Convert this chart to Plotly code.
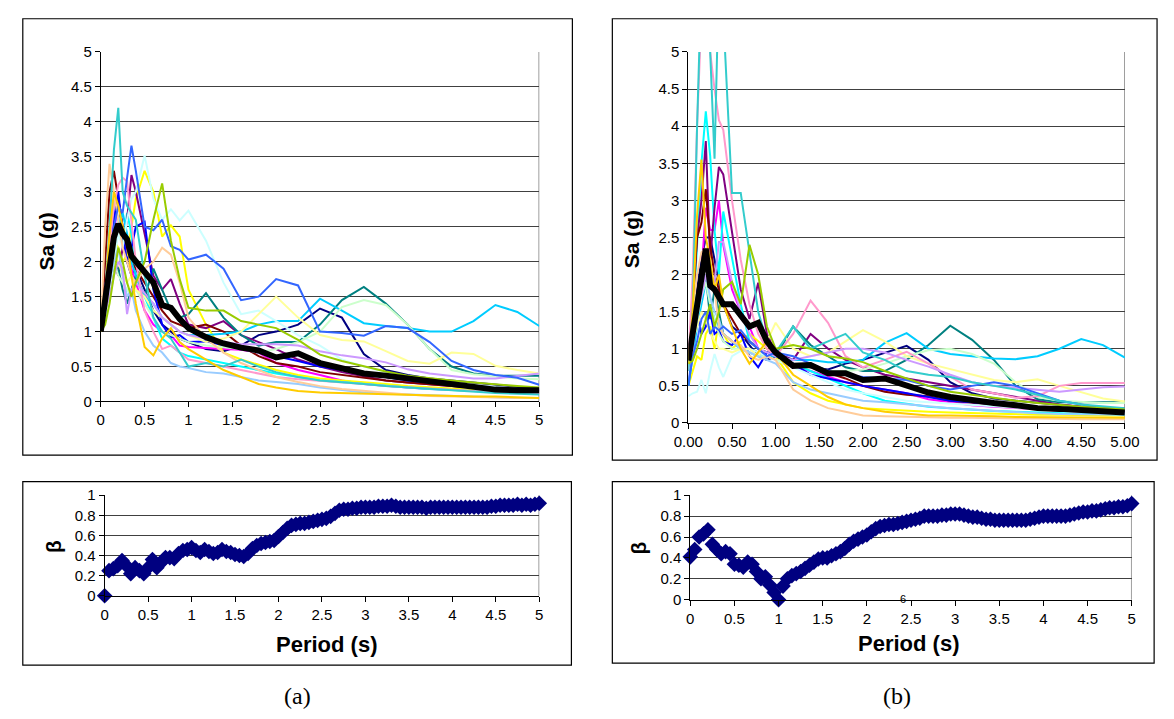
import plotly.graph_objects as go

# ---------------- data ----------------
periods = [0, 0.05, 0.1, 0.15, 0.2, 0.25, 0.3, 0.35, 0.4,
           0.5, 0.6, 0.7, 0.8, 0.9, 1.0,
           1.2, 1.4, 1.6, 1.8, 2.0,
           2.25, 2.5, 2.75, 3.0, 3.25, 3.5, 3.75, 4.0, 4.25, 4.5, 4.75, 5.0]

# panel (a) individual spectra, Sa (g)
a_navy = [1.0, 1.5, 2.2, 2.6, 2.9, 2.4, 2.0, 1.8, 1.9, 1.6, 1.3, 1.1, 1.0, 0.9, 0.85, 0.75, 0.72, 0.8, 0.95, 1.0, 1.1, 1.33, 1.2, 0.68, 0.45, 0.38, 0.33, 0.3, 0.26, 0.23, 0.2, 0.18]
a_magenta = [1.0, 1.3, 1.9, 2.4, 2.9, 2.5, 2.2, 1.9, 1.7, 1.3, 1.1, 1.0, 0.95, 0.8, 0.78, 0.76, 0.75, 0.74, 0.7, 0.55, 0.45, 0.38, 0.3, 0.25, 0.22, 0.2, 0.18, 0.17, 0.16, 0.15, 0.14, 0.13]
a_yellow = [1.1, 1.5, 2.0, 2.3, 2.2, 2.0, 2.1, 2.5, 2.9, 3.3, 3.0, 2.36, 2.52, 2.36, 1.6, 1.1, 0.7, 0.6, 0.52, 0.45, 0.38, 0.33, 0.3, 0.28, 0.25, 0.22, 0.2, 0.18, 0.16, 0.15, 0.14, 0.13]
a_cyan = [1.0, 1.5, 2.3, 2.9, 2.6, 2.2, 2.7, 2.4, 1.8, 1.5, 1.2, 0.9, 0.8, 0.7, 0.65, 0.6, 0.55, 0.5, 0.45, 0.4, 0.35, 0.3, 0.28, 0.25, 0.22, 0.2, 0.18, 0.16, 0.15, 0.14, 0.13, 0.12]
a_purple = [1.0, 1.3, 1.6, 2.0, 1.8, 2.2, 2.6, 3.24, 3.0, 2.4, 1.8, 1.6, 1.75, 1.4, 1.1, 1.05, 1.15, 0.95, 0.85, 0.75, 0.6, 0.5, 0.42, 0.36, 0.3, 0.27, 0.24, 0.22, 0.2, 0.18, 0.17, 0.16]
a_maroon = [1.0, 2.0, 3.0, 3.3, 2.9, 2.5, 2.2, 2.0, 1.9, 1.7, 1.5, 1.3, 1.15, 1.1, 1.05, 1.1, 1.0, 0.8, 0.65, 0.55, 0.5, 0.42, 0.38, 0.33, 0.3, 0.27, 0.24, 0.22, 0.2, 0.18, 0.16, 0.15]
a_teal = [1.0, 1.3, 1.6, 2.0, 1.9, 1.6, 1.4, 1.6, 1.8, 1.5, 1.9, 1.6, 1.3, 1.2, 1.25, 1.55, 1.2, 0.95, 0.8, 0.85, 0.85, 1.1, 1.45, 1.64, 1.4, 1.1, 0.75, 0.5, 0.4, 0.37, 0.37, 0.37]
a_blue = [1.0, 1.6, 2.2, 2.6, 3.0, 2.4, 2.0, 2.2, 2.5, 2.57, 1.6, 1.1, 0.92, 0.95, 0.85, 0.86, 0.8, 0.75, 0.7, 0.65, 0.58, 0.5, 0.45, 0.4, 0.35, 0.3, 0.27, 0.25, 0.22, 0.2, 0.18, 0.16]
a_skyblue = [1.0, 1.4, 1.9, 2.3, 2.5, 2.7, 2.4, 2.0, 1.8, 1.5, 1.4, 1.2, 1.1, 1.0, 0.95, 0.95, 0.97, 1.0, 1.1, 1.15, 1.15, 1.47, 1.3, 1.12, 1.08, 1.05, 1.0, 1.0, 1.15, 1.38, 1.28, 1.08]
a_paleturq = [1.0, 1.2, 1.6, 2.0, 2.4, 2.2, 2.6, 2.9, 3.0, 3.52, 2.9, 2.6, 2.75, 2.59, 2.73, 2.3, 1.7, 1.25, 1.3, 1.15, 0.95, 0.8, 0.6, 0.5, 0.42, 0.36, 0.3, 0.26, 0.23, 0.2, 0.18, 0.17]
a_palegreen = [1.0, 1.3, 1.8, 2.0, 1.8, 1.7, 1.6, 1.5, 1.6, 1.4, 1.2, 1.0, 0.95, 0.9, 0.85, 0.8, 0.78, 0.75, 0.7, 0.75, 0.85, 1.0, 1.35, 1.45, 1.38, 1.1, 0.75, 0.45, 0.39, 0.36, 0.33, 0.32]
a_paleyellow = [1.0, 1.4, 1.8, 2.1, 2.0, 1.8, 1.7, 1.8, 1.6, 1.5, 1.3, 1.2, 1.1, 1.0, 0.95, 0.85, 0.9, 1.0, 1.25, 1.5, 1.2, 0.95, 0.88, 0.86, 0.72, 0.58, 0.54, 0.7, 0.68, 0.51, 0.45, 0.4]
a_paleblue = [1.0, 1.3, 1.7, 2.0, 2.2, 1.8, 1.5, 1.6, 1.3, 1.0, 0.8, 0.7, 0.55, 0.5, 0.48, 0.42, 0.4, 0.35, 0.3, 0.28, 0.25, 0.2, 0.16, 0.13, 0.11, 0.1, 0.08, 0.07, 0.06, 0.05, 0.05, 0.05]
a_rose = [1.0, 1.6, 2.2, 2.8, 3.1, 3.2, 3.15, 2.6, 2.0, 1.3, 1.0, 0.75, 0.8, 0.7, 0.6, 0.55, 0.5, 0.45, 0.4, 0.35, 0.32, 0.3, 0.28, 0.25, 0.22, 0.2, 0.18, 0.16, 0.15, 0.14, 0.13, 0.12]
a_lavender = [1.0, 1.3, 1.5, 1.8, 2.0, 1.9, 1.25, 1.6, 1.7, 1.55, 1.4, 1.2, 1.1, 1.0, 0.95, 0.9, 0.85, 0.82, 0.82, 0.82, 0.8, 0.72, 0.66, 0.62, 0.56, 0.46, 0.4, 0.36, 0.33, 0.33, 0.37, 0.4]
a_tan = [1.0, 2.5, 3.4, 3.0, 2.6, 2.2, 2.0, 1.8, 1.7, 1.9, 2.0, 2.2, 2.1, 1.7, 1.2, 0.9, 0.7, 0.55, 0.45, 0.35, 0.28, 0.22, 0.18, 0.15, 0.12, 0.1, 0.08, 0.07, 0.06, 0.05, 0.05, 0.05]
a_royal = [1.0, 1.6, 2.0, 2.5, 2.8, 2.7, 3.2, 3.66, 3.3, 2.5, 2.45, 2.6, 2.22, 2.17, 2.03, 2.1, 1.9, 1.45, 1.5, 1.75, 1.66, 1.0, 0.98, 0.94, 1.08, 1.05, 0.85, 0.58, 0.45, 0.38, 0.34, 0.24]
a_aqua = [1.0, 1.5, 2.5, 3.6, 4.2, 3.0, 2.8, 2.7, 2.6, 1.8, 1.2, 1.0, 0.9, 0.7, 0.5, 0.55, 0.5, 0.6, 0.5, 0.42, 0.35, 0.3, 0.28, 0.25, 0.22, 0.2, 0.18, 0.15, 0.13, 0.12, 0.11, 0.1]
a_lime = [1.0, 1.1, 1.4, 1.8, 2.2, 2.0, 1.7, 1.5, 1.7, 2.0, 2.6, 3.12, 2.3, 1.75, 1.34, 1.3, 1.3, 1.15, 1.1, 1.05, 0.88, 0.67, 0.58, 0.5, 0.43, 0.37, 0.33, 0.3, 0.27, 0.24, 0.22, 0.2]
a_gold = [1.0, 1.5, 2.4, 3.0, 2.8, 2.5, 2.3, 1.8, 1.4, 0.78, 0.66, 0.9, 1.05, 0.85, 0.75, 0.6, 0.45, 0.35, 0.25, 0.2, 0.15, 0.13, 0.12, 0.11, 0.1, 0.1, 0.09, 0.08, 0.07, 0.07, 0.06, 0.05]
a_mean = [1.0, 1.4, 1.9, 2.35, 2.54, 2.4, 2.32, 2.08, 2.0, 1.85, 1.7, 1.38, 1.34, 1.18, 1.05, 0.92, 0.83, 0.77, 0.73, 0.63, 0.69, 0.55, 0.47, 0.4, 0.37, 0.33, 0.28, 0.24, 0.19, 0.17, 0.16, 0.16]

# panel (b) individual spectra, Sa (g)
b_navy = [0.8, 1.2, 1.8, 2.2, 2.5, 2.5, 2.2, 1.9, 1.6, 1.3, 1.2, 1.05, 0.9, 0.85, 0.9, 0.8, 0.75, 0.72, 0.8, 0.85, 0.95, 1.04, 0.85, 0.55, 0.4, 0.33, 0.3, 0.27, 0.24, 0.22, 0.2, 0.18]
b_magenta = [0.8, 1.2, 1.6, 2.0, 2.9, 2.6, 2.6, 3.0, 2.4, 1.8, 1.5, 1.3, 1.0, 0.9, 0.85, 0.75, 0.7, 0.62, 0.55, 0.5, 0.45, 0.4, 0.32, 0.28, 0.24, 0.22, 0.2, 0.18, 0.16, 0.15, 0.14, 0.13]
b_yellow = [0.5, 0.7, 0.9, 0.85, 1.2, 1.3, 1.0, 1.4, 1.2, 1.0, 1.1, 1.2, 1.1, 1.0, 0.9, 0.55, 0.4, 0.3, 0.25, 0.2, 0.18, 0.16, 0.15, 0.14, 0.13, 0.12, 0.12, 0.11, 0.11, 0.1, 0.1, 0.1]
b_cyan = [0.8, 1.3, 2.4, 3.5, 4.2, 3.6, 2.6, 2.0, 2.85, 2.2, 1.6, 1.1, 1.0, 0.95, 0.9, 0.8, 0.7, 0.6, 0.5, 0.4, 0.3, 0.26, 0.22, 0.2, 0.18, 0.16, 0.15, 0.14, 0.13, 0.12, 0.12, 0.11]
b_purple = [0.8, 1.5, 2.5, 3.0, 3.8, 2.2, 2.9, 3.45, 3.35, 2.6, 1.8, 1.4, 1.89, 1.2, 0.95, 0.85, 1.2, 1.0, 0.85, 0.75, 0.65, 0.6, 0.55, 0.5, 0.45, 0.4, 0.35, 0.3, 0.25, 0.22, 0.2, 0.2]
b_maroon = [0.8, 1.6, 2.5, 2.7, 3.15, 2.4, 2.0, 1.8, 1.6, 1.4, 1.2, 1.1, 1.0, 0.95, 0.9, 0.8, 0.75, 0.68, 0.6, 0.5, 0.42, 0.38, 0.36, 0.3, 0.27, 0.25, 0.22, 0.2, 0.18, 0.16, 0.15, 0.14]
b_teal = [0.8, 1.1, 1.5, 1.8, 2.0, 1.4, 1.8, 1.5, 1.2, 1.1, 1.0, 1.0, 0.95, 0.9, 0.9, 1.3, 1.05, 0.9, 0.75, 0.7, 0.7, 0.85, 1.05, 1.31, 1.12, 0.85, 0.5, 0.32, 0.28, 0.28, 0.28, 0.28]
b_blue = [0.5, 1.0, 1.5, 1.2, 1.3, 1.5, 1.2, 1.25, 1.1, 1.05, 1.2, 0.9, 0.75, 0.95, 0.95, 0.8, 0.65, 0.6, 0.55, 0.5, 0.45, 0.4, 0.35, 0.3, 0.28, 0.25, 0.22, 0.2, 0.18, 0.16, 0.15, 0.14]
b_skyblue = [0.5, 0.9, 1.3, 1.6, 1.9, 1.6, 1.4, 1.3, 1.2, 1.1, 1.0, 0.95, 0.9, 0.9, 0.9, 0.85, 0.85, 0.82, 0.82, 0.85, 1.08, 1.21, 1.0, 0.93, 0.9, 0.87, 0.86, 0.9, 1.0, 1.13, 1.05, 0.88]
b_paleturq = [0.36, 0.4, 0.42, 0.58, 0.4, 0.7, 0.93, 0.75, 0.62, 0.9, 0.97, 1.0, 0.95, 0.9, 0.85, 0.75, 0.65, 0.55, 0.45, 0.4, 0.35, 0.3, 0.28, 0.26, 0.24, 0.22, 0.2, 0.18, 0.16, 0.15, 0.14, 0.13]
b_palegreen = [0.8, 1.1, 1.4, 1.7, 1.9, 1.6, 1.4, 1.2, 1.1, 1.0, 1.0, 0.95, 0.9, 0.9, 0.85, 0.8, 0.75, 0.7, 0.7, 0.72, 0.8, 0.9, 0.98, 1.0, 0.93, 0.8, 0.55, 0.35, 0.3, 0.28, 0.27, 0.27]
b_paleyellow = [0.8, 1.1, 1.3, 1.5, 1.4, 1.2, 1.1, 1.0, 1.0, 0.95, 1.0, 1.0, 0.9, 1.1, 1.35, 1.0, 0.9, 0.95, 1.1, 1.25, 1.1, 0.9, 0.8, 0.73, 0.65, 0.58, 0.55, 0.59, 0.5, 0.42, 0.33, 0.29]
b_paleblue = [0.8, 1.1, 1.4, 1.8, 2.0, 1.7, 1.5, 1.4, 1.2, 1.1, 1.0, 0.95, 0.9, 0.85, 0.8, 0.55, 0.45, 0.4, 0.35, 0.3, 0.28, 0.25, 0.22, 0.2, 0.18, 0.16, 0.14, 0.13, 0.12, 0.12, 0.11, 0.11]
b_rose = [0.8, 2.0, 4.0, 5.5, 6.0, 5.0, 4.5, 4.08, 3.95, 3.0, 2.2, 1.6, 1.2, 1.0, 0.9, 1.2, 1.65, 1.35, 0.9, 0.75, 0.85, 0.96, 0.8, 0.62, 0.45, 0.4, 0.34, 0.36, 0.5, 0.54, 0.54, 0.54]
b_lavender = [0.7, 1.0, 1.5, 1.7, 2.0, 1.8, 1.9, 2.44, 2.44, 1.9, 1.5, 1.2, 1.0, 0.95, 0.9, 0.85, 0.9, 0.95, 1.0, 1.0, 0.95, 0.85, 0.76, 0.65, 0.55, 0.5, 0.47, 0.44, 0.42, 0.45, 0.48, 0.49]
b_tan = [0.8, 1.5, 2.0, 2.3, 2.35, 2.1, 1.8, 1.3, 1.2, 1.1, 1.05, 0.9, 0.85, 0.9, 0.85, 0.45, 0.3, 0.2, 0.15, 0.1, 0.09, 0.08, 0.08, 0.07, 0.07, 0.06, 0.06, 0.06, 0.05, 0.05, 0.05, 0.05]
b_royal = [0.5, 0.9, 1.1, 1.4, 1.5, 1.2, 1.3, 1.25, 1.3, 1.2, 1.25, 1.1, 1.0, 0.9, 0.95, 0.9, 0.8, 0.7, 0.65, 0.62, 0.6, 0.58, 0.5, 0.45, 0.5, 0.55, 0.5, 0.4, 0.3, 0.25, 0.2, 0.18]
b_aqua = [0.7, 1.5, 4.0, 6.0, 6.0, 5.0, 3.56, 6.0, 5.5, 3.1, 3.1, 2.3, 1.5, 1.1, 0.95, 1.3, 1.0, 1.1, 1.2, 0.95, 0.85, 0.7, 0.65, 0.62, 0.55, 0.5, 0.45, 0.38, 0.3, 0.25, 0.22, 0.2]
b_lime = [0.8, 0.84, 1.0, 1.2, 1.37, 1.6, 1.3, 1.5, 1.8, 1.9, 1.6, 2.4, 2.0, 1.3, 1.0, 1.05, 1.0, 0.9, 0.87, 0.82, 0.7, 0.6, 0.5, 0.42, 0.38, 0.33, 0.3, 0.27, 0.24, 0.22, 0.2, 0.18]
b_gold = [0.8, 1.5, 2.8, 3.55, 2.5, 2.2, 1.8, 2.0, 1.6, 1.28, 1.0, 0.8, 0.95, 1.1, 0.95, 0.65, 0.5, 0.35, 0.25, 0.2, 0.15, 0.12, 0.1, 0.1, 0.09, 0.09, 0.08, 0.08, 0.08, 0.07, 0.07, 0.07]
b_mean = [0.84, 1.2, 1.5, 1.95, 2.35, 1.85, 1.8, 1.68, 1.6, 1.6, 1.45, 1.3, 1.35, 1.1, 0.95, 0.77, 0.78, 0.67, 0.67, 0.58, 0.6, 0.5, 0.41, 0.35, 0.3, 0.27, 0.24, 0.2, 0.19, 0.18, 0.16, 0.14]

# dispersion beta, period step 0.05 s from 0 to 5 s
beta_periods = [round(0.05 * i, 2) for i in range(101)]
beta_a = [0.00, 0.25, 0.27, 0.30, 0.35, 0.30, 0.22, 0.28, 0.25, 0.22,
          0.28, 0.36, 0.28, 0.33, 0.38, 0.38, 0.37, 0.42, 0.45, 0.46,
          0.48, 0.45, 0.43, 0.46, 0.44, 0.42, 0.43, 0.46, 0.44, 0.43,
          0.41, 0.40, 0.39, 0.42, 0.47, 0.50, 0.52, 0.53, 0.54, 0.55,
          0.59, 0.63, 0.67, 0.70, 0.71, 0.72, 0.72, 0.73, 0.74, 0.75,
          0.76, 0.77, 0.79, 0.82, 0.85, 0.86, 0.86, 0.87, 0.87, 0.88,
          0.88, 0.88, 0.88, 0.89, 0.89, 0.89, 0.90, 0.89, 0.88, 0.88,
          0.88, 0.88, 0.88, 0.88, 0.87, 0.88, 0.88, 0.88, 0.88, 0.88,
          0.88, 0.88, 0.88, 0.88, 0.88, 0.88, 0.88, 0.88, 0.88, 0.89,
          0.89, 0.90, 0.90, 0.90, 0.90, 0.91, 0.90, 0.91, 0.90, 0.91,
          0.92]
beta_b = [0.41, 0.48, 0.60, 0.63, 0.67, 0.53, 0.48, 0.44, 0.46, 0.44,
          0.34, 0.33, 0.31, 0.36, 0.34, 0.27, 0.20, 0.22, 0.14, 0.07,
          0.00, 0.13, 0.20, 0.23, 0.25, 0.27, 0.30, 0.33, 0.36, 0.39,
          0.40, 0.40, 0.42, 0.44, 0.46, 0.49, 0.53, 0.56, 0.58, 0.60,
          0.62, 0.65, 0.68, 0.70, 0.71, 0.72, 0.72, 0.73, 0.74, 0.75,
          0.76, 0.77, 0.78, 0.80, 0.80, 0.80, 0.80, 0.81, 0.81, 0.82,
          0.82, 0.82, 0.81, 0.80, 0.79, 0.79, 0.78, 0.77, 0.77, 0.76,
          0.76, 0.76, 0.76, 0.76, 0.76, 0.76, 0.76, 0.77, 0.78, 0.79,
          0.80, 0.80, 0.80, 0.80, 0.80, 0.80, 0.81, 0.82, 0.83, 0.84,
          0.84, 0.85, 0.85, 0.86, 0.87, 0.88, 0.88, 0.89, 0.89, 0.90,
          0.92]

top_x_ticks = [0, 0.5, 1, 1.5, 2, 2.5, 3, 3.5, 4, 4.5, 5]
top_a_xlabels = ["0", "0.5", "1", "1.5", "2", "2.5", "3", "3.5", "4", "4.5", "5"]
top_b_xlabels = ["0.00", "0.50", "1.00", "1.50", "2.00", "2.50", "3.00", "3.50", "4.00", "4.50", "5.00"]
top_y_ticks = [0, 0.5, 1, 1.5, 2, 2.5, 3, 3.5, 4, 4.5, 5]
top_y_labels = ["0", "0.5", "1", "1.5", "2", "2.5", "3", "3.5", "4", "4.5", "5"]
bot_y_ticks = [0, 0.2, 0.4, 0.6, 0.8, 1]
bot_y_labels = ["0", "0.2", "0.4", "0.6", "0.8", "1"]

# ---------------- styles ----------------
record_colors = ["#000080", "#FF00FF", "#FFFF00", "#00FFFF", "#800080", "#800000",
                 "#008080", "#0000FF", "#00CCFF", "#CCFFFF", "#CCFFCC", "#FFFF99",
                 "#99CCFF", "#FF99CC", "#CC99FF", "#FFCC99", "#3366FF", "#33CCCC",
                 "#99CC00", "#FFCC00"]
a_records = [a_navy, a_magenta, a_yellow, a_cyan, a_purple, a_maroon, a_teal, a_blue,
             a_skyblue, a_paleturq, a_palegreen, a_paleyellow, a_paleblue, a_rose,
             a_lavender, a_tan, a_royal, a_aqua, a_lime, a_gold]
b_records = [b_navy, b_magenta, b_yellow, b_cyan, b_purple, b_maroon, b_teal, b_blue,
             b_skyblue, b_paleturq, b_palegreen, b_paleyellow, b_paleblue, b_rose,
             b_lavender, b_tan, b_royal, b_aqua, b_lime, b_gold]

W, H = 1174, 719
def px(x):
    return x / W
def py(y):
    return 1 - y / H

TICKFONT = dict(family="Liberation Sans Narrow, Arial Narrow, Liberation Sans, Arial", size=15, color="#000000")
GRID = "#404040"

fig = go.Figure()

for vals, col in zip(a_records, record_colors):
    fig.add_trace(go.Scatter(x=periods, y=vals, mode="lines", line=dict(color=col, width=2),
                             xaxis="x", yaxis="y", hoverinfo="skip"))
fig.add_trace(go.Scatter(x=periods, y=a_mean, mode="lines", line=dict(color="#000000", width=6),
                         xaxis="x", yaxis="y"))

for vals, col in zip(b_records, record_colors):
    fig.add_trace(go.Scatter(x=periods, y=vals, mode="lines", line=dict(color=col, width=2),
                             xaxis="x2", yaxis="y2", hoverinfo="skip"))
fig.add_trace(go.Scatter(x=periods, y=b_mean, mode="lines", line=dict(color="#000000", width=6),
                         xaxis="x2", yaxis="y2"))

fig.add_trace(go.Scatter(x=beta_periods, y=beta_a, mode="markers",
                         marker=dict(symbol="diamond", size=12, color="#000080"),
                         cliponaxis=False, xaxis="x3", yaxis="y3"))
fig.add_trace(go.Scatter(x=beta_periods, y=beta_b, mode="markers",
                         marker=dict(symbol="diamond", size=12, color="#000080"),
                         cliponaxis=False, xaxis="x4", yaxis="y4"))

def xax(domain, ticktext, anchor):
    return dict(domain=domain, range=[0, 5], anchor=anchor, tickvals=top_x_ticks, ticktext=ticktext,
                showgrid=False, zeroline=False, showline=True, linecolor="#000000", linewidth=1,
                ticks="outside", ticklen=5, tickcolor="#000000", tickfont=TICKFONT, fixedrange=True)

def yax(domain, rng, tv, tt, anchor):
    return dict(domain=domain, range=rng, anchor=anchor, tickvals=tv, ticktext=tt,
                showgrid=True, gridcolor=GRID, gridwidth=1, zeroline=False, showline=True,
                linecolor="#000000", linewidth=1, ticks="outside", ticklen=5, tickcolor="#000000",
                tickfont=TICKFONT, fixedrange=True)

fig.update_layout(
    width=W, height=H, margin=dict(l=0, r=0, t=0, b=0),
    paper_bgcolor="white", plot_bgcolor="white", showlegend=False,
    xaxis=xax([px(88), px(538)], top_a_xlabels, "y"),
    yaxis=yax([py(402), py(44)], [0, 5], top_y_ticks, top_y_labels, "x"),
    xaxis2=xax([px(691), px(1139)], top_b_xlabels, "y2"),
    yaxis2=yax([py(424), py(44)], [0, 5], top_y_ticks, top_y_labels, "x2"),
    xaxis3=xax([px(92), px(538)], top_a_xlabels, "y3"),
    yaxis3=yax([py(601), py(498)], [0, 1], bot_y_ticks, bot_y_labels, "x3"),
    xaxis4=xax([px(693), px(1146)], top_a_xlabels, "y4"),
    yaxis4=yax([py(605), py(498)], [0, 1], bot_y_ticks, bot_y_labels, "x4"),
)

shapes = []
# outer frames of the four charts
for (x0, y0, x1, y1) in [(8, 10, 572, 457), (613, 10, 1172, 462), (8, 484, 571, 672), (613, 484, 1169, 670)]:
    shapes.append(dict(type="rect", xref="paper", yref="paper", x0=px(x0), x1=px(x1), y0=py(y1), y1=py(y0),
                       line=dict(color="#000000", width=1.2), fillcolor="rgba(0,0,0,0)", layer="above"))
# grey right border of plot areas
for xa, ya in [("x", "y"), ("x2", "y2"), ("x3", "y3"), ("x4", "y4")]:
    shapes.append(dict(type="line", xref=xa, yref=ya + " domain", x0=5, x1=5, y0=0, y1=1,
                       line=dict(color="#808080", width=1.5), layer="below"))
fig.update_layout(shapes=shapes)

BOLD = "Liberation Sans, Arial"
ann = [
    dict(text="<b>Sa (g)</b>", x=px(32), y=py(238), textangle=-90, font=dict(family=BOLD, size=21)),
    dict(text="<b>Sa (g)</b>", x=px(633), y=py(236), textangle=-90, font=dict(family=BOLD, size=21)),
    dict(text="<b>β</b>", x=px(40), y=py(550), textangle=-90, font=dict(family=BOLD, size=21)),
    dict(text="<b>β</b>", x=px(640), y=py(552), textangle=-90, font=dict(family=BOLD, size=21)),
    dict(text="<b>Period (s)</b>", x=px(320), y=py(651), font=dict(family=BOLD, size=22)),
    dict(text="<b>Period (s)</b>", x=px(917), y=py(650), font=dict(family=BOLD, size=22)),
    dict(text="(a)", x=px(290), y=py(704), font=dict(family="Liberation Serif, Times New Roman", size=24)),
    dict(text="(b)", x=px(905), y=py(704), font=dict(family="Liberation Serif, Times New Roman", size=24)),
    dict(text="6", x=px(911), y=py(604), font=dict(family="Liberation Sans Narrow, Liberation Sans", size=11)),
]
for a in ann:
    a.update(xref="paper", yref="paper", showarrow=False, xanchor="center", yanchor="middle")
    a["font"]["color"] = "#000000"
fig.update_layout(annotations=ann)

fig.write_html("out.html", post_script="document.body.style.margin='0px';document.body.style.overflow='hidden';")
